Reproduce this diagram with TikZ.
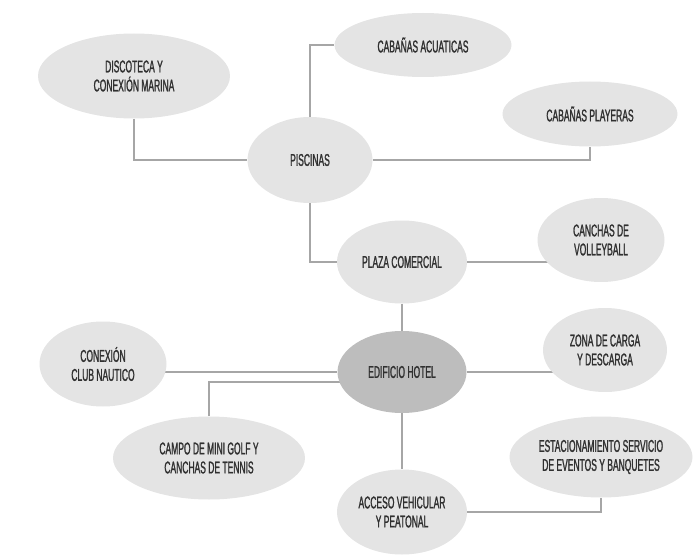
\documentclass[tikz,border=0pt]{standalone}
\usepackage{fontspec}
\usetikzlibrary{shapes.geometric,backgrounds}
\newfontfamily\condfont{Liberation Sans}[FakeStretch=0.5, FakeBold=1.2]
\definecolor{zonefill}{HTML}{E4E4E4}
\definecolor{hotelfill}{HTML}{BDBDBD}
\definecolor{linkgray}{HTML}{A6A6A6}
\definecolor{txtgray}{HTML}{303030}

\begin{document}
\begin{tikzpicture}[
		x=1pt, y=-1pt,
		every node/.style={ellipse, fill=zonefill, inner sep=0pt, align=center,
			text=txtgray, font=\condfont\fontsize{17}{19}\selectfont},
		link/.style={draw=linkgray, line width=1.1pt}
	]
  \useasboundingbox (0,0) rectangle (693,556);
  \node (disco) [minimum width=192, minimum height=85] at (134, 76) {DISCOTECA Y\\CONEXIÓN MARINA};
  \node (acuat) [minimum width=177, minimum height=64] at (423, 45) {CABAÑAS  ACUATICAS};
  \node (playa) [minimum width=175, minimum height=65] at (590, 114) {CABAÑAS  PLAYERAS};
  \node (pisc) [minimum width=125, minimum height=86] at (310, 160) {PISCINAS};
  \node (plaza) [minimum width=130, minimum height=83] at (402, 262) {PLAZA COMERCIAL};
  \node (volley) [minimum width=127, minimum height=84] at (601, 240) {CANCHAS DE\\VOLLEYBALL};
  \node (hotel) [minimum width=129, minimum height=82, fill=hotelfill] at (402, 372) {EDIFICIO HOTEL};
  \node (carga) [minimum width=124, minimum height=84] at (605, 350) {ZONA DE CARGA\\Y DESCARGA};
  \node (nautico) [minimum width=127, minimum height=85] at (103, 364) {CONEXIÓN\\CLUB NAUTICO};
  \node (golf) [minimum width=192, minimum height=83] at (209, 458) {CAMPO DE MINI GOLF Y\\CANCHAS DE TENNIS};
  \node (acceso) [minimum width=130, minimum height=85] at (402, 512) {ACCESO VEHICULAR\\Y PEATONAL};
  \node (estac) [minimum width=183, minimum height=81] at (601, 457) {ESTACIONAMIENTO SERVICIO\\DE EVENTOS Y BANQUETES};
  \begin{scope}[on background layer]
    \draw[link] (disco) |- (pisc);
    \draw[link] (pisc) |- (acuat);
    \draw[link] (pisc) -| (playa);
    \draw[link] (pisc) |- (plaza);
    \draw[link] (plaza) -- (volley.center |- plaza.center);
    \draw[link] (plaza) -- (hotel);
    \draw[link] (hotel) -- (carga.center |- hotel.center);
    \draw[link] (nautico.center |- hotel.center) -- (hotel);
    \draw[link] (golf) |- ([yshift=-10pt]hotel.center);
    \draw[link] (hotel) -- (acceso);
    \draw[link] (acceso) -| (estac);
  \end{scope}
\end{tikzpicture}
\end{document}
